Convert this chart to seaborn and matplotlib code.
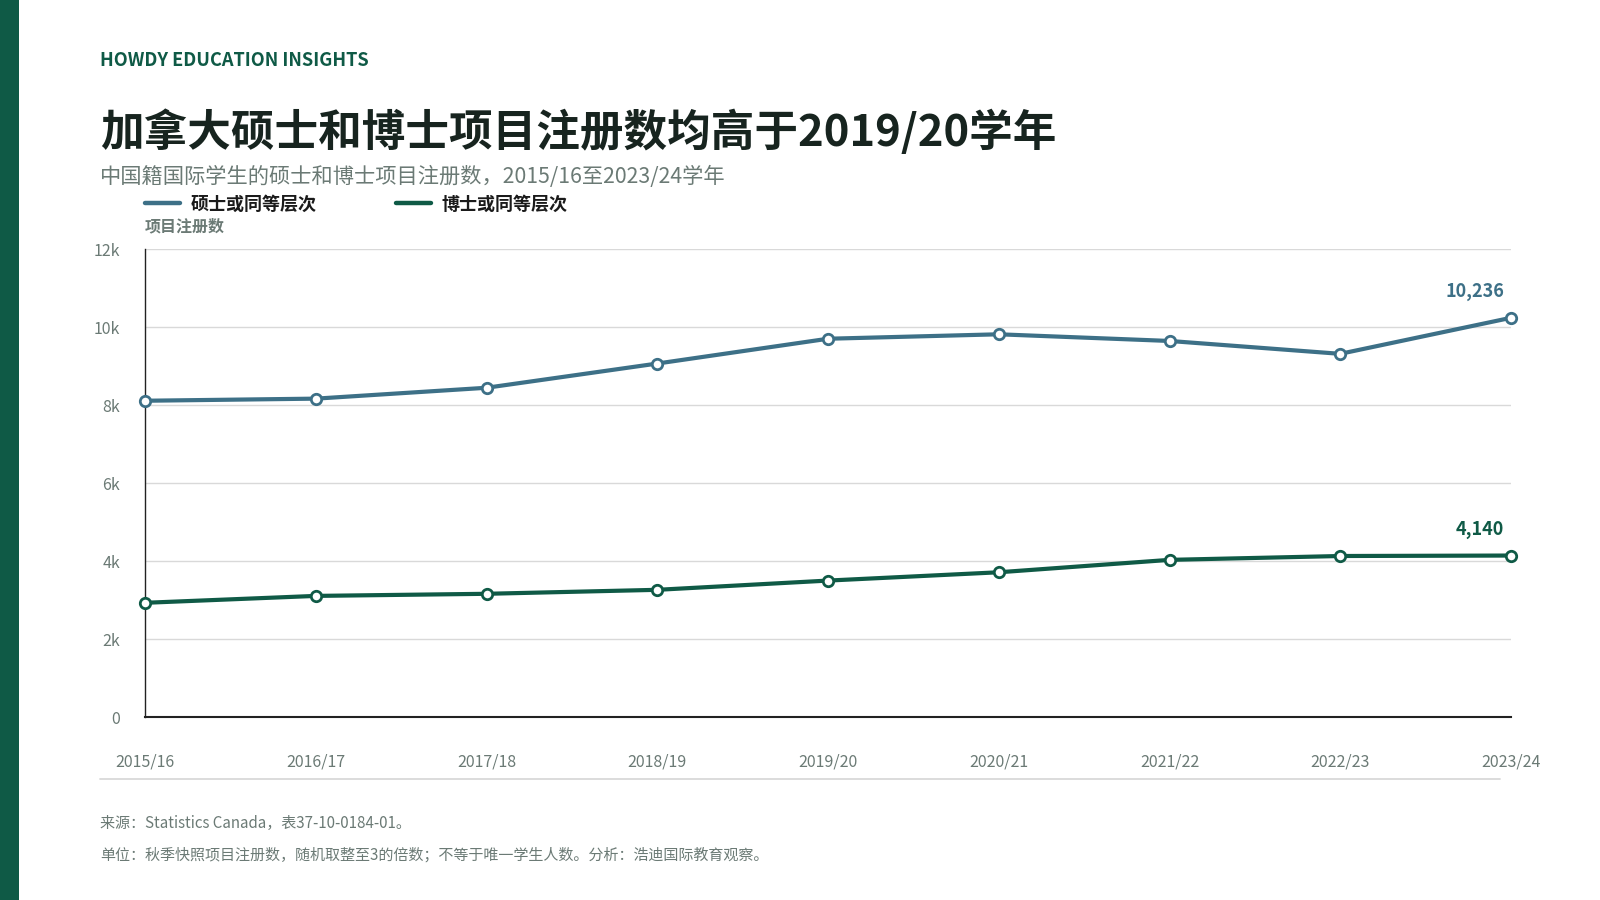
import matplotlib
matplotlib.use("Agg")
import matplotlib.pyplot as plt
from matplotlib.patches import Rectangle
from matplotlib.lines import Line2D
import seaborn as sns
import pandas as pd

# ---- data ----
years = ["2015/16", "2016/17", "2017/18", "2018/19", "2019/20",
         "2020/21", "2021/22", "2022/23", "2023/24"]
masters = [8109, 8163, 8442, 9063, 9699, 9813, 9642, 9312, 10236]
doctoral = [2928, 3105, 3159, 3261, 3498, 3711, 4029, 4128, 4140]
series_names = ["硕士或同等层次", "博士或同等层次"]
y_ticks = [0, 2000, 4000, 6000, 8000, 10000, 12000]
y_tick_labels = ["0", "2k", "4k", "6k", "8k", "10k", "12k"]

MASTER_C = "#3d7087"
DOC_C = "#0f5a46"
GRAY = "#6b7a75"
DARK = "#17241f"

df = pd.DataFrame({
    "year": years * 2,
    "value": masters + doctoral,
    "series": [series_names[0]] * len(years) + [series_names[1]] * len(years),
})

sns.set_theme(style="white")
FONTS = ["Noto Sans CJK SC", "DejaVu Sans"]
plt.rcParams["font.family"] = FONTS

W, H = 1600, 900
fig = plt.figure(figsize=(16, 9), dpi=100)
fig.patch.set_facecolor("white")

# left accent bar
fig.add_artist(Rectangle((0, 0), 19 / W, 1, transform=fig.transFigure,
                         color=DOC_C, lw=0))

ax = fig.add_axes([145 / W, 1 - 717 / H, (1511 - 145) / W, (717 - 249) / H])

sns.lineplot(data=df, x="year", y="value", hue="series",
             palette={series_names[0]: MASTER_C, series_names[1]: DOC_C},
             hue_order=series_names, ax=ax, lw=3, marker="o",
             markersize=7.5, markerfacecolor="white", markeredgewidth=2,
             clip_on=False, legend=False, zorder=3)
for ln in ax.lines:
    ln.set_markeredgecolor(ln.get_color())
    ln.set_markerfacecolor("white")

ax.set_xlim(0, len(years) - 1)
ax.set_ylim(0, 12000)
ax.set_yticks(y_ticks)
ax.set_yticklabels(y_tick_labels)
ax.set_xlabel("")
ax.set_ylabel("")
ax.yaxis.grid(True, color="#d9d9d9", lw=1)
ax.xaxis.grid(False)
ax.set_axisbelow(True)
for s in ["top", "right"]:
    ax.spines[s].set_visible(False)
ax.spines["left"].set_color("#222222")
ax.spines["left"].set_linewidth(1)
ax.spines["bottom"].set_color("#222222")
ax.spines["bottom"].set_linewidth(1.5)
ax.tick_params(axis="y", length=0, pad=18, labelsize=11.5, labelcolor=GRAY)
ax.tick_params(axis="x", length=0, pad=26, labelsize=11.5, labelcolor=GRAY)

# end labels
ax.annotate(f"{masters[-1]:,}", xy=(len(years) - 1, masters[-1]),
            xytext=(-7, 17), textcoords="offset pixels", ha="right",
            va="bottom", fontsize=13, fontweight="bold", color=MASTER_C)
ax.annotate(f"{doctoral[-1]:,}", xy=(len(years) - 1, doctoral[-1]),
            xytext=(-7, 17), textcoords="offset pixels", ha="right",
            va="bottom", fontsize=13, fontweight="bold", color=DOC_C)

# header texts
fig.text(100 / W, 1 - 61 / H, "HOWDY EDUCATION INSIGHTS", fontsize=13.1,
         fontweight="bold", color=DOC_C, va="center", ha="left")
fig.text(100 / W, 1 - 132 / H, "加拿大硕士和博士项目注册数均高于2019/20学年",
         fontsize=31.4, fontweight="bold", color=DARK, va="center", ha="left")
fig.text(100 / W, 1 - 177 / H,
         "中国籍国际学生的硕士和博士项目注册数，2015/16至2023/24学年",
         fontsize=15.3, color=GRAY, va="center", ha="left")

# legend (manual, figure coords)
leg_items = [(145, 191, MASTER_C, series_names[0]),
             (396, 441, DOC_C, series_names[1])]
for x0, xt, c, lab in leg_items:
    fig.add_artist(Line2D([x0 / W, (x0 + 35) / W], [1 - 203 / H, 1 - 203 / H],
                          transform=fig.transFigure, color=c, lw=3.2))
    fig.text(xt / W, 1 - 204 / H, lab, fontsize=13, fontweight="bold",
             color="#1a1a1a", va="center", ha="left")

fig.text(145 / W, 1 - 226 / H, "项目注册数", fontsize=11.5, fontweight="bold",
         color=GRAY, va="center", ha="left")

# separator
fig.add_artist(Line2D([100 / W, 1500 / W], [1 - 779 / H, 1 - 779 / H],
                      transform=fig.transFigure, color="#d9d9d9", lw=1.3))

# footer
fig.text(100 / W, 1 - 823 / H, "来源：Statistics Canada，表37-10-0184-01。",
         fontsize=10.85, color=GRAY, va="center", ha="left")
fig.text(100 / W, 1 - 855 / H,
         "单位：秋季快照项目注册数，随机取整至3的倍数；不等于唯一学生人数。分析：浩迪国际教育观察。",
         fontsize=10.85, color=GRAY, va="center", ha="left")

fig.savefig("out.png", dpi=100, facecolor="white")
